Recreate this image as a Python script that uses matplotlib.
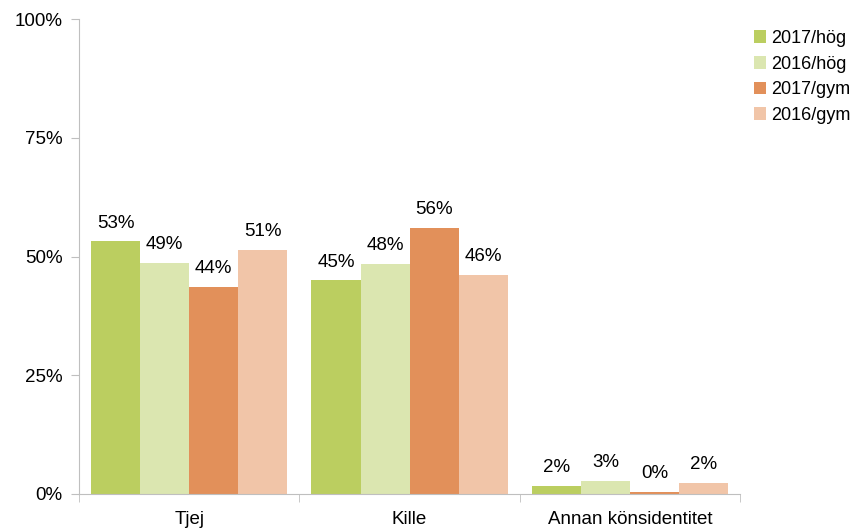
import matplotlib.pyplot as plt
import numpy as np

plt.rcParams['font.family'] = ['Liberation Sans', 'DejaVu Sans']

# Data
kategorier = ['Tjej', 'Kille', 'Annan könsidentitet']
serier = ['2017/hög', '2016/hög', '2017/gym', '2016/gym']
hog2017 = [53.2, 45.0, 1.7]
hog2016 = [48.7, 48.4, 2.7]
gym2017 = [43.6, 56.0, 0.5]
gym2016 = [51.4, 46.1, 2.3]
farger = ['#BBCE60', '#DBE6B0', '#E2905A', '#F1C5A8']

fig = plt.figure(figsize=(8.59, 5.28), dpi=100)
ax = fig.add_axes([0.092, 0.0644, 0.7695, 0.8996])

x = np.arange(len(kategorier))
bredd = 0.2225
for i, (namn, varden) in enumerate(zip(serier, [hog2017, hog2016, gym2017, gym2016])):
    pos = x + (i - 1.5) * bredd
    ax.bar(pos, varden, bredd, color=farger[i], label=namn)
    for p, v in zip(pos, varden):
        ax.annotate(f'{v:.0f}%', (p, v), xytext=(0, 7), textcoords='offset points',
                    ha='center', va='bottom', fontsize=13.5)

ax.set_xlim(-0.5, 2.5)
ax.set_ylim(0, 100)
ax.set_yticks([0, 25, 50, 75, 100])
ax.set_yticklabels(['0%', '25%', '50%', '75%', '100%'], fontsize=13.5)
ax.set_xticks(x)
ax.set_xticklabels(kategorier, fontsize=13.5)
ax.tick_params(axis='x', length=0, pad=12)
ax.set_xticks([-0.5, 0.5, 1.5, 2.5], minor=True)
ax.tick_params(axis='x', which='minor', length=6, color='#BFBFBF')
ax.tick_params(axis='y', length=6, color='#BFBFBF', pad=6)

for s in ['top', 'right']:
    ax.spines[s].set_visible(False)
for s in ['left', 'bottom']:
    ax.spines[s].set_color('#BFBFBF')

ax.legend(loc='upper left', bbox_to_anchor=(1.01, 0.992), frameon=False, fontsize=13,
          handlelength=0.7, handleheight=0.7, handletextpad=0.25, labelspacing=0.48,
          borderaxespad=0)

fig.savefig('out.png', dpi=100)
